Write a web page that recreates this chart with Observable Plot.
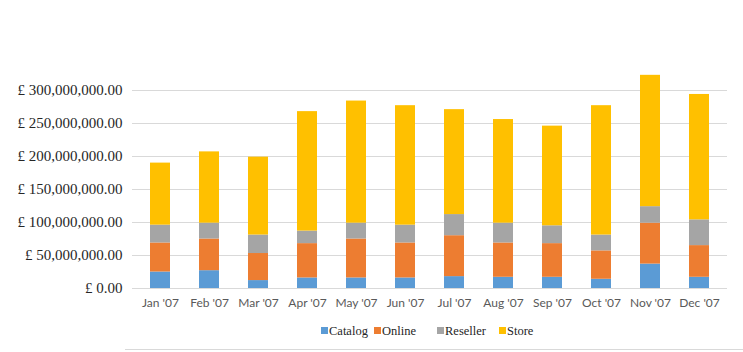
<!DOCTYPE html>
<html>
<head>
<meta charset="utf-8">
<script src="https://cdn.jsdelivr.net/npm/d3@7"></script>
<script src="https://cdn.jsdelivr.net/npm/@observablehq/plot@0.6"></script>
<style>
  html, body { margin: 0; padding: 0; background: #fff; }
  #wrap { position: relative; width: 743px; height: 352px; overflow: hidden; }
  #legend { position: absolute; left: 0; top: 318px; width: 743px; height: 34px; }
  .item { position: absolute; top: 6px; font-family: "Liberation Serif", "DejaVu Serif", serif; font-size: 12.5px; color: #262626; white-space: nowrap; }
  .sw { display: inline-block; width: 7px; height: 7px; margin-right: 1px; vertical-align: 1px; }
  #bottomline { position: absolute; left: 125px; top: 349px; width: 618px; height: 1px; background: #d9d9d9; }
</style>
</head>
<body>
<div id="wrap">
  <div id="chart"></div>
  <div id="legend"></div>
  <div id="bottomline"></div>
</div>
<script>
const months = ["Jan '07","Feb '07","Mar '07","Apr '07","May '07","Jun '07","Jul '07","Aug '07","Sep '07","Oct '07","Nov '07","Dec '07"];
const seriesNames = ["Catalog","Online","Reseller","Store"];
// values in millions of pounds
const catalog  = [25, 27, 12, 16, 16, 16, 18, 17, 17, 14, 37, 17];
const online   = [44, 48, 41, 52, 59, 53, 62, 52, 51, 43, 62, 48];
const reseller = [27, 24, 28, 19, 24, 27, 32, 30, 27, 24, 25, 39];
const store    = [94, 108, 118, 181, 185, 181, 159, 157, 151, 196, 199, 190];
const yTicks = [0, 50e6, 100e6, 150e6, 200e6, 250e6, 300e6];
const colors = ["#5B9BD5", "#ED7D31", "#A5A5A5", "#FFC000"];

const seriesValues = [catalog, online, reseller, store];
const data = [];
months.forEach((m, i) => {
  seriesNames.forEach((s, k) => {
    data.push({month: m, series: s, value: seriesValues[k][i] * 1e6});
  });
});

const fmt = d3.format(",.2f");

const chart = Plot.plot({
  width: 743,
  height: 318,
  marginLeft: 132,
  marginRight: 16,
  marginTop: 57,
  marginBottom: 30,
  style: {background: "#fff", overflow: "visible"},
  x: {domain: months, paddingInner: 0.585, paddingOuter: 0.2925, label: null},
  y: {domain: [0, 350e6], label: null},
  color: {domain: seriesNames, range: colors},
  marks: [
    Plot.ruleY(yTicks, {stroke: "#d9d9d9", strokeWidth: 1}),
    Plot.barY(data, {x: "month", y: "value", fill: "series", order: seriesNames}),
    Plot.axisY({
      ticks: yTicks, tickSize: 0, tickPadding: 10,
      tickFormat: d => "£ " + fmt(d),
      fontFamily: "Liberation Serif, DejaVu Serif, serif",
      fontSize: 15, fill: "#262626", label: null
    }),
    Plot.axisX({
      tickSize: 0, tickPadding: 10,
      fontFamily: "Lato, 'Open Sans', sans-serif",
      fontSize: 12, fill: "#595959", label: null
    })
  ]
});
document.getElementById("chart").appendChild(chart);

const legendLefts = [321, 374, 437, 499];
const legend = document.getElementById("legend");
seriesNames.forEach((s, k) => {
  const d = document.createElement("div");
  d.className = "item";
  d.style.left = legendLefts[k] + "px";
  d.innerHTML = `<span class="sw" style="background:${colors[k]}"></span>${s}`;
  legend.appendChild(d);
});
</script>
</body>
</html>
